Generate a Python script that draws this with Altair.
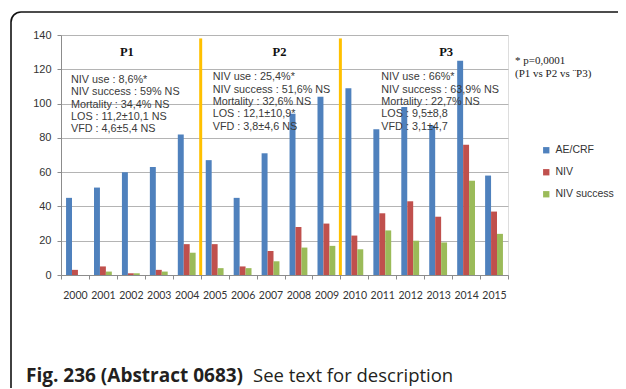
import altair as alt
import pandas as pd

years = [str(y) for y in range(2000, 2016)]
ae_crf = [45, 51, 60, 63, 82, 67, 45, 71, 94, 104, 109, 85, 98, 87, 125, 58]
niv = [3, 5, 1, 3, 18, 18, 5, 14, 28, 30, 23, 36, 43, 34, 76, 37]
niv_success = [0, 2, 1, 2, 13, 4, 4, 8, 16, 17, 15, 26, 20, 19, 55, 24]
series = ["AE/CRF", "NIV", "NIV success"]
colors = ["#4F81BD", "#C0504D", "#9BBB59"]
y_ticks = [0, 20, 40, 60, 80, 100, 120, 140]

# period separators (after these years) and labels
sep_years = ["2004", "2009"]
sep_top = 138
period_names = ["P1", "P2", "P3"]
period_name_years = ["2002", "2007", "2013"]
period_name_dx = [-4, 9, 8]
period_name_y = 130
stat_years = ["2000", "2005", "2011"]
stat_dx = [10, 12, 13]
stat_y = [112, 113.5, 113.5]
stats = [
    ["NIV use : 8,6%*", "NIV success : 59% NS", "Mortality : 34,4% NS",
     "LOS : 11,2±10,1 NS", "VFD : 4,6±5,4 NS"],
    ["NIV use : 25,4%*", "NIV success  : 51,6% NS", "Mortality : 32,6% NS",
     "LOS : 12,1±10,9*", "VFD : 3,8±4,6 NS"],
    ["NIV use : 66%*", "NIV success : 63,9% NS", "Mortality : 22,7% NS",
     "LOS : 9,5±8,8", "VFD : 3,1±4,7"],
]
footnote = ["* p=0,0001", "(P1 vs P2 vs \u00a8P3)"]
caption_bold = "Fig. 236 (Abstract 0683)"
caption_rest = "See text for description"

rows = []
for i, yr in enumerate(years):
    for s, vals in zip(series, [ae_crf, niv, niv_success]):
        rows.append({"year": yr, "series": s, "value": vals[i]})
df = pd.DataFrame(rows)

x_scale = alt.Scale(domain=years, paddingInner=0, paddingOuter=0)
y_scale = alt.Scale(domain=[0, 140])
x_axis = alt.Axis(title=None, labelAngle=0, tickBand="extent", tickSize=4,
                  labelFont="Lato", labelFontSize=10.5, labelColor="#333333",
                  labelPadding=11, domainColor="#8c8c8c", tickColor="#8c8c8c")
y_axis = alt.Axis(title=None, values=y_ticks, grid=True, gridColor="#b4b4b4",
                  tickSize=4, labelPadding=6, labelFont="Liberation Sans",
                  labelFontSize=11, labelColor="#333333", labelOverlap=False,
                  domainColor="#8c8c8c", tickColor="#8c8c8c")

bars = alt.Chart(df).mark_bar().encode(
    x=alt.X("year:N", scale=x_scale, sort=years, axis=x_axis),
    xOffset=alt.XOffset("series:N", scale=alt.Scale(domain=series, paddingInner=0, paddingOuter=0.85)),
    y=alt.Y("value:Q", scale=y_scale, axis=y_axis),
    color=alt.Color("series:N", scale=alt.Scale(domain=series, range=colors),
                    legend=alt.Legend(orient="none", legendX=480, legendY=110, title=None,
                                      symbolType="square", symbolSize=40,
                                      labelFont="Liberation Sans", labelFontSize=10.5,
                                      labelColor="#333333", rowPadding=11,
                                      symbolStrokeWidth=0)),
)

sep_df = pd.DataFrame({"year": sep_years, "top": [sep_top] * len(sep_years), "bottom": [0] * len(sep_years)})
seps = alt.Chart(sep_df).mark_rule(color="#FFC000", strokeWidth=3).encode(
    x=alt.X("year:N", scale=x_scale, sort=years, bandPosition=1, axis=x_axis),
    y=alt.Y("top:Q", scale=y_scale, axis=y_axis),
    y2="bottom:Q",
)

pname_layers = []
for name, yr, dx in zip(period_names, period_name_years, period_name_dx):
    d = pd.DataFrame({"year": [yr], "label": [name], "v": [period_name_y]})
    pname_layers.append(
        alt.Chart(d).mark_text(font="Liberation Serif", fontWeight="bold", fontSize=12.5,
                               color="#111111", dx=dx, baseline="middle", align="center").encode(
            x=alt.X("year:N", scale=x_scale, sort=years, axis=x_axis),
            y=alt.Y("v:Q", scale=y_scale, axis=y_axis),
            text="label:N",
        )
    )

stat_layers = []
for lines, yr, dx, yv in zip(stats, stat_years, stat_dx, stat_y):
    d = pd.DataFrame({"year": [yr], "label": ["\n".join(lines)], "v": [yv]})
    stat_layers.append(
        alt.Chart(d).mark_text(font="Liberation Sans", fontSize=10.8, color="#3a3a3a",
                               align="left", baseline="alphabetic", lineBreak="\n",
                               lineHeight=12.3, dx=dx).encode(
            x=alt.X("year:N", scale=x_scale, sort=years, bandPosition=0, axis=x_axis),
            y=alt.Y("v:Q", scale=y_scale, axis=y_axis),
            text="label:N",
        )
    )

foot = alt.Chart(pd.DataFrame({"label": ["\n".join(footnote)]})).mark_text(
    font="Liberation Serif", fontSize=11, color="#222222", align="left",
    baseline="alphabetic", lineBreak="\n", lineHeight=12.5).encode(
    x=alt.value(454), y=alt.value(29), text="label:N")

cap1 = alt.Chart(pd.DataFrame({"label": [caption_bold]})).mark_text(
    font="Open Sans", fontSize=19, fontWeight="bold", color="#231f20", align="left",
    baseline="alphabetic").encode(x=alt.value(-35), y=alt.value(347), text="label:N")
cap2 = alt.Chart(pd.DataFrame({"label": [caption_rest]})).mark_text(
    font="Open Sans", fontSize=18.5, color="#231f20", align="left",
    baseline="alphabetic").encode(x=alt.value(192), y=alt.value(347), text="label:N")

# open frame: top and left edges with a rounded top-left corner
frame_top = alt.Chart(pd.DataFrame({"a": [0]})).mark_rule(
    color="#111111", strokeWidth=1.6).encode(
    x=alt.value(-40), x2=alt.value(600), y=alt.value(-23))
frame_left = alt.Chart(pd.DataFrame({"a": [0]})).mark_rule(
    color="#111111", strokeWidth=1.6).encode(
    x=alt.value(-50), y=alt.value(-13), y2=alt.value(500))
frame_corner = alt.Chart(pd.DataFrame({"a": [0]})).mark_arc(
    color="#111111", radius=10.8, radius2=9.2).encode(
    x=alt.value(-40), y=alt.value(-13),
    theta=alt.value(4.7124), theta2=alt.value(6.2832))

chart = alt.layer(frame_top, frame_left, frame_corner, bars, seps, *pname_layers,
                  *stat_layers, foot, cap1, cap2).properties(
    width=447, height=240,
    autosize=alt.AutoSizeParams(type="none"),
    padding={"left": 53, "top": 27, "right": 110, "bottom": 113},
).configure_view(stroke=None).configure(background="white")

chart.save("out.html", embed_options={"renderer": "svg", "actions": False})
